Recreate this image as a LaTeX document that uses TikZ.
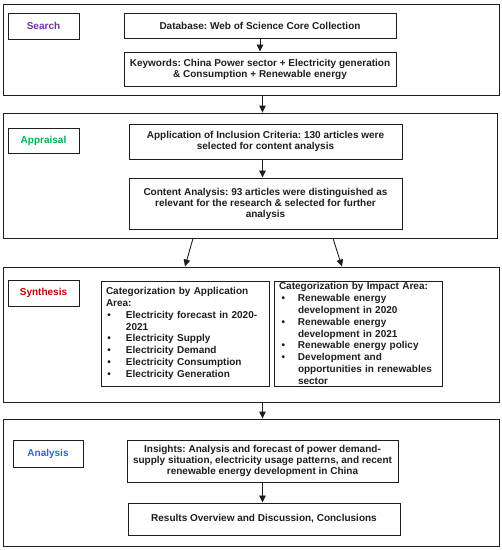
\documentclass[tikz,border=0pt]{standalone}
\usepackage{fontspec}
\setmainfont{Liberation Sans}
\usetikzlibrary{arrows.meta,calc}
\frenchspacing
\definecolor{cSearch}{RGB}{112,48,160}
\definecolor{cAppr}{RGB}{0,176,80}
\definecolor{cSyn}{RGB}{192,0,0}
\definecolor{cAna}{RGB}{51,102,204}
\definecolor{ink}{RGB}{30,30,30}
\newcommand\litem[2]{\par\hangindent=#1\hangafter=0\noindent\llap{\textbullet\hspace{#2}}}
\tikzset{
  outerbox/.style={draw=ink, line width=0.9pt, inner sep=0pt},
  labelbox/.style={draw=ink, line width=1pt, inner sep=0pt, minimum width=71pt, minimum height=26pt,
    font=\fontsize{10}{11}\selectfont\bfseries\frenchspacing},
  stepbox/.style={draw=ink, line width=1pt, inner sep=0pt, align=center, text=ink,
    font=\fontsize{10}{11}\selectfont\bfseries\frenchspacing},
  listbox/.style={draw=ink, line width=1pt, inner xsep=5pt, inner ysep=0pt, text width=158pt,
    minimum height=105pt, align=left, text=ink, font=\fontsize{10}{11.8}\selectfont\bfseries\frenchspacing},
  arr/.style={-{Triangle[length=7pt,width=6.5pt]}, line width=0.9pt, draw=ink}
}
\begin{document}
\begin{tikzpicture}[x=1pt,y=-1pt]
\useasboundingbox (0,0) rectangle (502,550);
% outer section boxes
\node[outerbox, minimum width=496pt, minimum height=91pt] (sOuter) at (251,49.5) {};
\node[outerbox, minimum width=494pt, minimum height=125pt] (aOuter) at (250,175.5) {};
\node[outerbox, minimum width=496pt, minimum height=135pt] (yOuter) at (251,334.5) {};
\node[outerbox, minimum width=496pt, minimum height=127pt] (nOuter) at (251,482.5) {};
% labels
\node[labelbox, text=cSearch] (lSearch) at (43.5,26) {Search};
\node[labelbox, text=cAppr, minimum height=25pt] (lAppr) at (43.5,140.5) {Appraisal};
\node[labelbox, text=cSyn] (lSyn) at (43.5,293) {Synthesis};
\node[labelbox, text=cAna, minimum width=70pt, minimum height=27pt] (lAna) at (48,453.5) {Analysis};
% search
\node[stepbox, minimum width=272pt, minimum height=25pt] (db) at (260,25.5) {Database: Web of Science Core Collection};
\node[stepbox, minimum width=272pt, minimum height=34pt] (kw) at (260,69) {Keywords: China Power sector + Electricity generation\\\& Consumption + Renewable energy};
% appraisal
\node[stepbox, minimum width=273pt, minimum height=35pt] (app) at (265.5,141.5) {Application of Inclusion Criteria: 130 articles were\\selected for content analysis};
\node[stepbox, minimum width=273pt, minimum height=51pt] (ca) at (265.5,203.5) {Content Analysis: 93 articles were distinguished as\\relevant for the research \& selected for further\\analysis};
% synthesis
\node[listbox] (appArea) at (185,333.5) {Categorization by Application\newline Area:%
\litem{20pt}{15pt}Electricity forecast in 2020-\newline 2021%
\litem{20pt}{15pt}Electricity Supply%
\litem{20pt}{15pt}Electricity Demand%
\litem{20pt}{15pt}Electricity Consumption%
\litem{20pt}{15pt}Electricity Generation\par};
\node[listbox] (impArea) at (358,333.5) {Categorization by Impact Area:%
\litem{19pt}{13pt}Renewable energy\newline development in 2020%
\litem{19pt}{13pt}Renewable energy\newline development in 2021%
\litem{19pt}{13pt}Renewable energy policy%
\litem{19pt}{13pt}Development and\newline opportunities in renewables\newline sector\par};
% analysis
\node[stepbox, minimum width=271pt, minimum height=42pt] (ins) at (262.5,461) {Insights: Analysis and forecast of power demand-\\supply situation, electricity usage patterns, and recent\\renewable energy development in China};
\node[stepbox, minimum width=272pt, minimum height=32pt] (res) at (264,519) {Results Overview and Discussion, Conclusions};
% guide coordinates
\coordinate (cx) at (262.5,0);
\coordinate (lA) at (193,0);
\coordinate (lB) at (185,0);
\coordinate (rA) at (333,0);
\coordinate (rB) at (342,0);
% arrows
\draw[arr] (db.south) -- (kw.north);
\draw[arr] (sOuter.south -| cx) -- (aOuter.north -| cx);
\draw[arr] (app.south -| cx) -- (ca.north -| cx);
\draw[arr] (aOuter.south -| lA) -- (yOuter.north -| lB);
\draw[arr] (aOuter.south -| rA) -- (yOuter.north -| rB);
\draw[arr] (yOuter.south -| cx) -- (nOuter.north -| cx);
\draw[arr] (ins.south -| cx) -- (res.north -| cx);
\end{tikzpicture}
\end{document}
